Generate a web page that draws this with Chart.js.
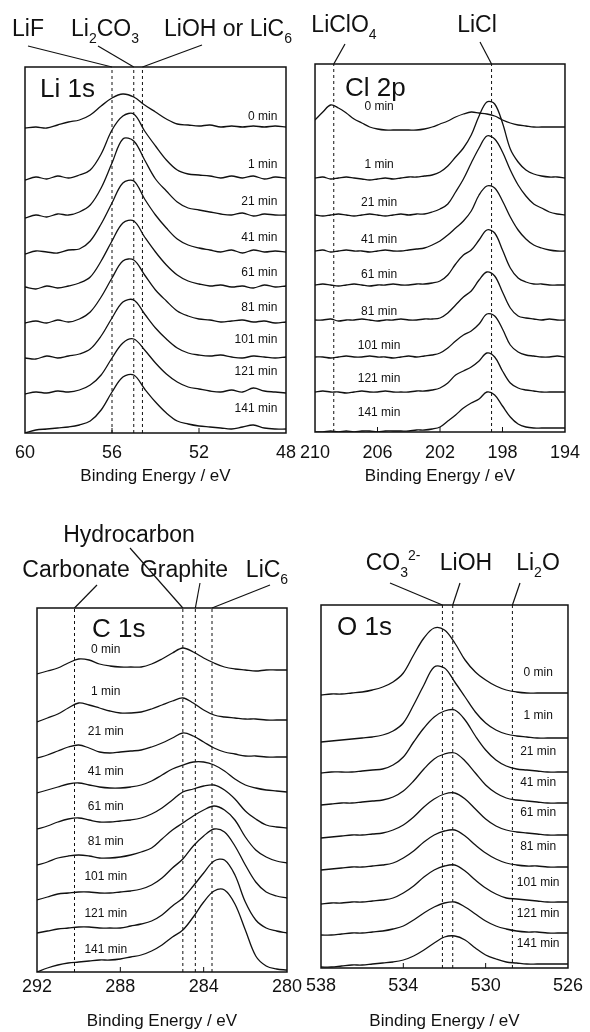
<!DOCTYPE html>
<html>
<head>
<meta charset="utf-8">
<script src="https://cdn.jsdelivr.net/npm/chart.js@4.4.1/dist/chart.umd.min.js"></script>
<style>
  html, body { margin: 0; padding: 0; background: #fff; }
  #page { position: relative; width: 590px; height: 1032px; overflow: hidden; background: #fff; }
  canvas { position: absolute; }
</style>
</head>
<body>
<div id="page">
  <canvas id="li" width="310" height="500" style="left:0;top:0"></canvas>
  <canvas id="cl" width="300" height="500" style="left:290px;top:0"></canvas>
  <canvas id="c" width="310" height="532" style="left:0;top:500px"></canvas>
  <canvas id="o" width="300" height="532" style="left:290px;top:500px"></canvas>
</div>
<script>
const FONT = '"Liberation Sans", Arial, Helvetica, sans-serif';
const INK = '#111';

const times = ['0 min', '1 min', '21 min', '41 min', '61 min', '81 min', '101 min', '121 min', '141 min'];

// Li 1s
const liEnergy = [60, 59.5, 59, 58.5, 58, 57.5, 57, 56.5, 56, 55.5, 55, 54.5, 54, 53.5, 53, 52.5, 52, 51.5, 51, 50.5, 50, 49.5, 49, 48.5, 48];
const liOffset = [306, 255, 218, 181, 146, 111, 75, 40, 3];
const liCounts = [
  [-1, 0, -1, 2, 5, 7, 12, 21, 29, 33, 30, 22, 15, 8, 3, 2, 1, 2, 0, 1, 0, 1, 0, 1, 0],
  [-2, 1, -1, 2, 0, 3, 8, 24, 48, 62, 64, 47, 32, 18, 8, 4, 3, 2, 0, 2, 0, 2, -1, 1, 0],
  [-3, 0, -2, 1, 0, 3, 10, 27, 52, 76, 74, 55, 36, 24, 13, 7, 5, 3, 1, 0, 2, -1, 1, 0, 0],
  [-2, 1, 0, -1, 2, 3, 11, 28, 49, 69, 71, 53, 37, 24, 13, 7, 4, 2, 0, 2, -1, 2, 0, 1, 0],
  [0, -2, 1, -1, 1, 4, 10, 26, 46, 64, 66, 50, 35, 22, 12, 6, 3, 1, 2, 0, 1, -1, 2, 0, 1],
  [-1, 1, -1, 2, 0, 3, 10, 25, 44, 61, 62, 47, 32, 21, 11, 6, 3, 2, 0, 1, 2, 0, 1, -1, 0],
  [0, -1, 2, 0, 2, 4, 9, 22, 40, 56, 58, 44, 30, 19, 10, 5, 3, 2, 3, 1, 0, 2, 1, 0, 1],
  [-1, 1, 0, 2, 1, 3, 8, 18, 35, 50, 54, 43, 30, 19, 11, 6, 4, 2, 1, 3, 1, 5, 2, 1, 0],
  [-3, 0, 1, 2, 3, 5, 9, 20, 38, 53, 55, 41, 28, 17, 9, 6, 4, 3, 2, 1, 3, 5, 2, 1, 1]
];
const liRefs = [56.0, 55.0, 54.6];
const liTags = ['LiF', 'Li_2CO_3', 'LiOH or LiC_6'];

// Cl 2p
const clEnergy = [210, 209.5, 209, 208.5, 208, 207.5, 207, 206.5, 206, 205.5, 205, 204.5, 204, 203.5, 203, 202.5, 202, 201.5, 201, 200.5, 200, 199.5, 199, 198.5, 198, 197.5, 197, 196.5, 196, 195.5, 195, 194.5, 194];
const clOffset = [305, 254, 217, 181, 147, 112, 75, 40, 4];
const clCounts = [
  [7, 15, 22, 19, 14, 8, 4, 0, -2, -3, -3, -3, -3, -3, -2, 0, 3, 6, 10, 13, 15, 14, 13, 11, 7, 4, 2, 1, 0, 0, 0, 0, 0],
  [0, 1, -1, 0, 1, 0, -1, -2, -1, 0, -1, 0, 1, 1, 2, 3, 6, 12, 21, 30, 43, 62, 76, 74, 55, 29, 16, 8, 4, 2, 1, 1, 0],
  [0, -1, 0, 1, 0, -1, 0, 1, 0, -1, 0, 1, 0, 1, 1, 3, 6, 11, 23, 36, 52, 67, 79, 76, 63, 45, 30, 19, 11, 7, 3, 1, 0],
  [0, 1, -1, 0, 1, 0, 0, -1, 0, 1, 0, 0, 1, 2, 3, 6, 10, 16, 23, 30, 40, 56, 65, 63, 50, 34, 21, 12, 6, 3, 1, 0, 0],
  [0, 1, 0, -1, 0, 1, 0, -1, 0, 0, 1, 0, 0, 1, 1, 2, 4, 10, 21, 30, 35, 45, 55, 52, 35, 17, 7, 3, 1, 1, 0, 0, 0],
  [0, 0, 1, -1, 0, 0, 1, 0, -1, 0, 0, 1, 0, 0, 1, 1, 2, 7, 15, 23, 29, 40, 48, 44, 28, 12, 4, 2, 1, 0, 1, 0, 0],
  [0, 0, -1, 0, 1, 0, 0, 1, 0, 0, -1, 0, 1, 0, 1, 2, 4, 9, 16, 22, 26, 33, 43, 41, 28, 12, 5, 2, 1, 0, 0, 1, 0],
  [0, 1, 0, 0, -1, 0, 1, 0, 0, 1, 0, 0, 0, 1, 1, 2, 4, 9, 17, 21, 25, 31, 39, 35, 21, 9, 4, 2, 1, 0, 0, 0, 0],
  [-4, -4, -3, -4, -3, -4, -3, -3, -4, -3, -3, -3, -3, -2, -2, -1, 1, 7, 13, 20, 25, 29, 36, 33, 22, 11, 4, 1, 0, 0, 0, 0, 0]
];
const clRefs = [208.8, 198.7];
const clTags = ['LiClO_4', 'LiCl'];

// C 1s
const cEnergy = [292, 291.5, 291, 290.5, 290, 289.5, 289, 288.5, 288, 287.5, 287, 286.5, 286, 285.5, 285, 284.5, 284, 283.5, 283, 282.5, 282, 281.5, 281, 280.5, 280];
const cOffset = [302, 252, 215, 180, 144, 109, 74, 39, 2];
const cCounts = [
  [-4, -1, 2, 7, 11, 10, 6, 4, 3, 3, 3, 6, 11, 17, 22, 18, 12, 7, 3, 1, 0, -1, 0, 0, 0],
  [-2, 2, 6, 12, 17, 15, 12, 9, 7, 7, 8, 11, 15, 19, 22, 17, 10, 5, 3, 2, 1, 1, 0, 0, 0],
  [-1, 2, 6, 10, 12, 9, 5, 4, 5, 6, 7, 10, 14, 19, 24, 21, 15, 9, 5, 3, 1, 1, 0, 0, 0],
  [-1, 2, 5, 8, 9, 7, 5, 4, 4, 5, 7, 11, 17, 23, 27, 30, 30, 27, 21, 13, 7, 4, 2, 1, 0],
  [-1, 2, 6, 9, 10, 8, 6, 6, 7, 8, 10, 14, 20, 28, 36, 39, 42, 43, 38, 29, 17, 9, 3, 1, 0],
  [-2, 1, 5, 7, 8, 7, 5, 5, 6, 8, 11, 15, 24, 33, 40, 47, 53, 57, 53, 43, 26, 13, 6, 2, 0],
  [-2, 1, 4, 5, 6, 6, 5, 5, 6, 7, 9, 13, 20, 30, 39, 52, 62, 69, 66, 52, 33, 16, 6, 2, 0],
  [0, 2, 4, 5, 6, 6, 5, 5, 5, 7, 9, 12, 18, 27, 35, 47, 60, 72, 73, 58, 31, 13, 5, 2, 0],
  [-2, 2, 5, 7, 8, 9, 10, 10, 11, 13, 15, 19, 25, 33, 40, 53, 68, 79, 80, 66, 40, 14, 4, 1, 0]
];
const cRefs = [290.2, 285.0, 284.4, 283.6];
const cTags = ['Carbonate', 'Hydrocarbon', 'Graphite', 'LiC_6'];

// O 1s
const oEnergy = [538, 537.5, 537, 536.5, 536, 535.5, 535, 534.5, 534, 533.5, 533, 532.5, 532, 531.5, 531, 530.5, 530, 529.5, 529, 528.5, 528, 527.5, 527, 526.5, 526];
const oOffset = [275, 230, 196, 165, 133, 101, 66, 35, 4];
const oCounts = [
  [-2, -1, -1, 0, 1, 3, 6, 11, 20, 38, 55, 65, 63, 50, 33, 21, 13, 7, 3, 1, 0, 0, 0, 0, 0],
  [-4, -3, -2, -1, 0, 1, 3, 7, 15, 33, 53, 71, 70, 56, 41, 26, 15, 8, 4, 2, 1, 0, 0, 0, 0],
  [-1, 0, 0, 0, 1, 2, 3, 7, 15, 30, 44, 55, 61, 62, 52, 36, 22, 12, 6, 3, 2, 1, 0, 0, 0],
  [-2, -1, 0, 0, 1, 2, 3, 6, 12, 22, 34, 44, 49, 50, 42, 30, 18, 10, 5, 3, 2, 1, 0, 0, 0],
  [-3, -2, -1, 0, 0, 1, 2, 5, 10, 18, 28, 36, 41, 42, 36, 26, 16, 9, 5, 3, 2, 1, 0, 0, 0],
  [-3, -2, -1, 0, 0, 1, 2, 4, 9, 16, 25, 32, 36, 37, 31, 22, 14, 8, 4, 2, 1, 1, 0, 0, 0],
  [-2, -1, -1, 0, 0, 1, 2, 4, 9, 16, 25, 32, 36, 37, 31, 22, 14, 8, 4, 3, 2, 1, 0, 0, 0],
  [-2, -2, -1, 0, 0, 1, 2, 4, 7, 13, 20, 26, 30, 31, 26, 19, 12, 7, 4, 2, 1, 1, 0, 0, 0],
  [-3, -3, -2, -1, -1, 0, 1, 2, 4, 8, 14, 21, 27, 28, 24, 16, 9, 5, 2, 1, 0, 0, 0, 0, 0]
];
const oRefs = [532.1, 531.6, 528.7];
const oTags = ['CO_3^{2-}', 'LiOH', 'Li_2O'];

// text with _x / ^{xy} sub- and superscripts
function parseRich(str) {
  const out = [];
  const re = /([_^])\{([^}]*)\}|([_^])(.)|([^_^]+)/g;
  let m;
  while ((m = re.exec(str))) {
    if (m[1]) out.push({ t: m[2], k: m[1] });
    else if (m[3]) out.push({ t: m[4], k: m[3] });
    else out.push({ t: m[5], k: '' });
  }
  return out;
}

function drawRich(ctx, str, cx, by, size) {
  const segs = parseRich(str).map(s => {
    const fs = s.k ? Math.round(size * 0.62) : size;
    ctx.font = fs + 'px ' + FONT;
    return { t: s.t, k: s.k, fs: fs, w: ctx.measureText(s.t).width };
  });
  const total = segs.reduce((a, s) => a + s.w, 0);
  let x = cx - total / 2;
  ctx.textAlign = 'left';
  ctx.textBaseline = 'alphabetic';
  segs.forEach(s => {
    ctx.font = s.fs + 'px ' + FONT;
    const dy = s.k === '_' ? size * 0.3 : (s.k === '^' ? -size * 0.42 : 0);
    ctx.fillText(s.t, x, by + dy);
    x += s.w;
  });
}

function decor(p) {
  return {
    id: 'decor',
    afterDatasetsDraw(chart) {
      const { ctx, chartArea: a } = chart;
      const x = chart.scales.x, y = chart.scales.y;
      ctx.save();
      ctx.strokeStyle = INK;
      ctx.fillStyle = INK;
      ctx.lineWidth = 1.5;
      ctx.strokeRect(a.left, a.top, a.right - a.left, a.bottom - a.top);

      // small inner ticks on the bottom edge
      ctx.lineWidth = 1;
      x.ticks.forEach(t => {
        if (t.value > x.min && t.value < x.max) {
          const px = x.getPixelForValue(t.value);
          ctx.beginPath();
          ctx.moveTo(px, a.bottom);
          ctx.lineTo(px, a.bottom - 5);
          ctx.stroke();
        }
      });

      ctx.font = '26px ' + FONT;
      ctx.textAlign = 'left';
      ctx.textBaseline = 'alphabetic';
      ctx.fillText(p.name, p.nameX, p.nameY);

      ctx.font = '12px ' + FONT;
      ctx.textAlign = p.labelAlign;
      ctx.textBaseline = 'middle';
      times.forEach((t, i) => {
        ctx.fillText(t, x.getPixelForValue(p.labelE), y.getPixelForValue(p.labelY[i]));
      });

      ctx.lineWidth = 1.2;
      p.tags.forEach((tg, i) => {
        drawRich(ctx, p.tagText[i], tg.cx, tg.by, 23);
        ctx.beginPath();
        ctx.moveTo(tg.fx, tg.fy);
        ctx.lineTo(x.getPixelForValue(p.refs[i]), a.top);
        ctx.stroke();
      });
      ctx.restore();
    }
  };
}

function build(id, energy, offsets, counts, refs, xr, ymax, box, deco) {
  const datasets = [];
  refs.forEach(r => {
    datasets.push({
      data: [{ x: r, y: 0 }, { x: r, y: ymax }],
      borderColor: INK, borderWidth: 1, borderDash: [3, 3],
      pointRadius: 0, tension: 0, fill: false
    });
  });
  counts.forEach((c, k) => {
    datasets.push({
      data: energy.map((e, i) => ({ x: e, y: offsets[k] + c[i] })),
      borderColor: INK, borderWidth: 1.3,
      pointRadius: 0, tension: 0.35, fill: false
    });
  });
  return new Chart(document.getElementById(id), {
    type: 'line',
    data: { datasets: datasets },
    options: {
      responsive: false,
      animation: false,
      events: [],
      layout: { padding: box.pad },
      plugins: { legend: { display: false }, tooltip: { enabled: false } },
      scales: {
        x: {
          type: 'linear', min: xr[0], max: xr[1], reverse: true,
          afterFit(s) { s.height = box.axisH; },
          ticks: { stepSize: 4, color: INK, font: { family: FONT, size: 18 }, padding: box.tickPad, maxRotation: 0, autoSkip: false },
          grid: { display: false, drawTicks: false },
          border: { display: false },
          title: {
            display: true, text: 'Binding Energy / eV', color: INK,
            font: { family: FONT, size: 17 }, padding: { top: 0, bottom: box.titlePad }
          }
        },
        y: { display: false, min: 0, max: ymax }
      }
    },
    plugins: [deco]
  });
}

build('li', liEnergy, liOffset, liCounts, liRefs, [48, 60], 366,
  { pad: { left: 25, right: 24, top: 67, bottom: 0 }, axisH: 67, tickPad: 9, titlePad: 13 },
  decor({
    name: 'Li 1s', nameX: 40, nameY: 97,
    labelE: 48.4, labelAlign: 'right', labelY: [316, 268, 231, 195, 160, 125, 93, 61, 24],
    refs: liRefs, tagText: liTags,
    tags: [{ cx: 28, by: 36, fx: 28, fy: 46 }, { cx: 105, by: 36, fx: 98, fy: 46 }, { cx: 228, by: 36, fx: 202, fy: 45 }]
  }));

build('cl', clEnergy, clOffset, clCounts, clRefs, [194, 210], 368,
  { pad: { left: 25, right: 24, top: 64, bottom: 0 }, axisH: 68, tickPad: 10, titlePad: 13 },
  decor({
    name: 'Cl 2p', nameX: 55, nameY: 96,
    labelE: 205.9, labelAlign: 'center', labelY: [325, 267, 229, 192, 157, 120, 86, 53, 19],
    refs: clRefs, tagText: clTags,
    tags: [{ cx: 54, by: 32, fx: 55, fy: 44 }, { cx: 187, by: 32, fx: 190, fy: 42 }]
  }));

build('c', cEnergy, cOffset, cCounts, cRefs, [280, 292], 364,
  { pad: { left: 37, right: 23, top: 108, bottom: 0 }, axisH: 60, tickPad: 4, titlePad: 0 },
  decor({
    name: 'C 1s', nameX: 92, nameY: 137,
    labelE: 288.7, labelAlign: 'center', labelY: [322, 280, 240, 200, 165, 130, 95, 58, 22],
    refs: cRefs, tagText: cTags,
    tags: [{ cx: 76, by: 77, fx: 97, fy: 85 }, { cx: 129, by: 42, fx: 130, fy: 48 }, { cx: 184, by: 77, fx: 200, fy: 83 }, { cx: 267, by: 77, fx: 270, fy: 85 }]
  }));

build('o', oEnergy, oOffset, oCounts, oRefs, [526, 538], 363,
  { pad: { left: 31, right: 20, top: 105, bottom: 0 }, axisH: 64, tickPad: 7, titlePad: 0 },
  decor({
    name: 'O 1s', nameX: 47, nameY: 135,
    labelE: 527.45, labelAlign: 'center', labelY: [295, 252, 216, 185, 155, 121, 85, 54, 24],
    refs: oRefs, tagText: oTags,
    tags: [{ cx: 103, by: 70, fx: 100, fy: 83 }, { cx: 176, by: 70, fx: 170, fy: 83 }, { cx: 248, by: 70, fx: 230, fy: 83 }]
  }));
</script>
</body>
</html>
